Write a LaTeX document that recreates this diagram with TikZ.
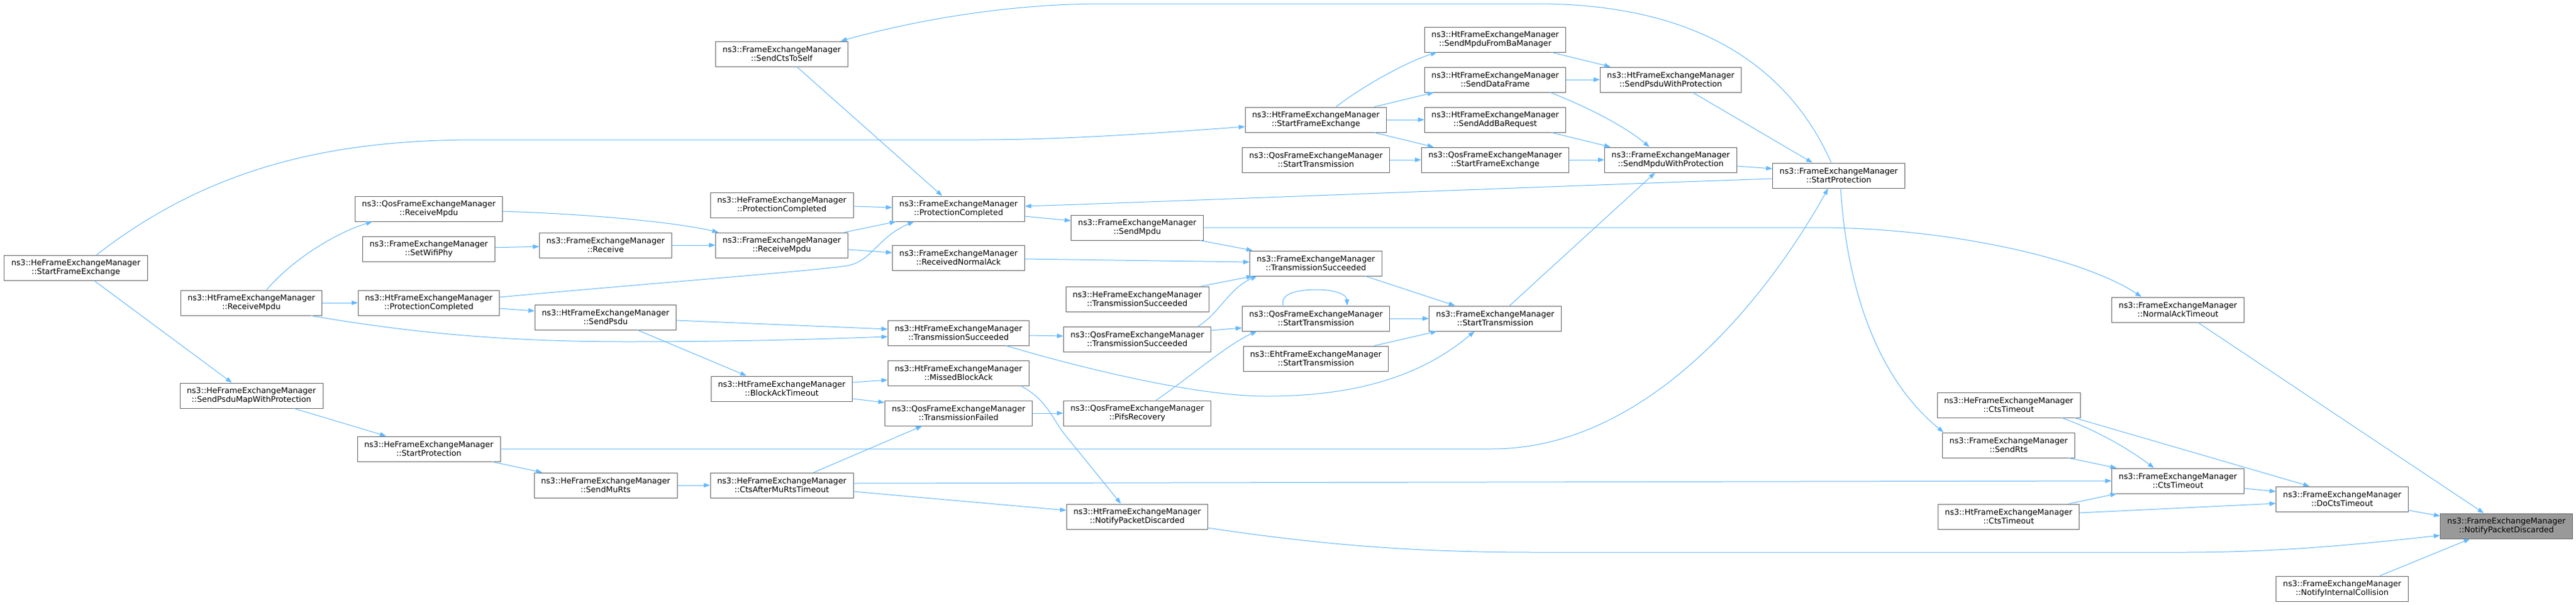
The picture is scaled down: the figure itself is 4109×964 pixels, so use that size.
\documentclass[tikz,border=0pt]{standalone}
\usepackage{fontspec}
\setmainfont{DejaVu Sans}
\usetikzlibrary{calc, arrows.meta}
\definecolor{edgeblue}{HTML}{63B8FF}
\definecolor{boxline}{HTML}{666666}
\definecolor{rootfill}{HTML}{999999}

\begin{document}
\begin{tikzpicture}[x=1bp, y=-1bp,
    every node/.style={font=\fontsize{12.75}{13.8}\selectfont},
    fn/.style={draw=boxline, fill=white, line width=1bp, align=center, inner xsep=11bp, inner ysep=0pt, minimum height=40bp},
    rootfn/.style={fn, fill=rootfill},
    call/.style={draw=edgeblue, line width=1bp, -{Triangle[length=10bp, width=7bp]}}]
  \useasboundingbox[fill=white] (0,0) rectangle (4109,964);
  \node[fn] (HeSFE) at (121,427) {ns3::HeFrameExchangeManager\\::StartFrameExchange};
  \node[fn] (HtRM) at (401,483) {ns3::HtFrameExchangeManager\\::ReceiveMpdu};
  \node[fn] (HeSPMWP) at (401,631) {ns3::HeFrameExchangeManager\\::SendPsduMapWithProtection};
  \node[fn] (QosRM) at (684,333) {ns3::QosFrameExchangeManager\\::ReceiveMpdu};
  \node[fn] (SetPhy) at (684,397) {ns3::FrameExchangeManager\\::SetWifiPhy};
  \node[fn] (HtPC) at (684,483) {ns3::HtFrameExchangeManager\\::ProtectionCompleted};
  \node[fn] (HeSP) at (684,716) {ns3::HeFrameExchangeManager\\::StartProtection};
  \node[fn] (Recv) at (966,391) {ns3::FrameExchangeManager\\::Receive};
  \node[fn] (HtSPsdu) at (966,506) {ns3::HtFrameExchangeManager\\::SendPsdu};
  \node[fn] (HeSMuRts) at (966,774) {ns3::HeFrameExchangeManager\\::SendMuRts};
  \node[fn] (CtsSelf) at (1247,86) {ns3::FrameExchangeManager\\::SendCtsToSelf};
  \node[fn] (HePC) at (1247,327) {ns3::HeFrameExchangeManager\\::ProtectionCompleted};
  \node[fn] (RecvMpdu) at (1247,391) {ns3::FrameExchangeManager\\::ReceiveMpdu};
  \node[fn] (HtBAT) at (1247,620) {ns3::HtFrameExchangeManager\\::BlockAckTimeout};
  \node[fn] (HeCAMRT) at (1247,774) {ns3::HeFrameExchangeManager\\::CtsAfterMuRtsTimeout};
  \node[fn] (ProtDone) at (1529,333) {ns3::FrameExchangeManager\\::ProtectionCompleted};
  \node[fn] (NormAck) at (1529,411) {ns3::FrameExchangeManager\\::ReceivedNormalAck};
  \node[fn] (HtTS) at (1529,531) {ns3::HtFrameExchangeManager\\::TransmissionSucceeded};
  \node[fn] (HtMBA) at (1529,595) {ns3::HtFrameExchangeManager\\::MissedBlockAck};
  \node[fn] (QosTF) at (1529,659) {ns3::QosFrameExchangeManager\\::TransmissionFailed};
  \node[fn] (SendMpdu) at (1814,363) {ns3::FrameExchangeManager\\::SendMpdu};
  \node[fn] (HeTS) at (1814,477) {ns3::HeFrameExchangeManager\\::TransmissionSucceeded};
  \node[fn] (QosTS) at (1814,541) {ns3::QosFrameExchangeManager\\::TransmissionSucceeded};
  \node[fn] (Pifs) at (1814,659) {ns3::QosFrameExchangeManager\\::PifsRecovery};
  \node[fn] (HtNPD) at (1814,824) {ns3::HtFrameExchangeManager\\::NotifyPacketDiscarded};
  \node[fn] (HtSFE) at (2099,191) {ns3::HtFrameExchangeManager\\::StartFrameExchange};
  \node[fn] (QosST) at (2099,255) {ns3::QosFrameExchangeManager\\::StartTransmission};
  \node[fn] (TxOk) at (2099,420) {ns3::FrameExchangeManager\\::TransmissionSucceeded};
  \node[fn] (QosSTb) at (2099,508) {ns3::QosFrameExchangeManager\\::StartTransmission};
  \node[fn] (EhtST) at (2099,572) {ns3::EhtFrameExchangeManager\\::StartTransmission};
  \node[fn] (HtBaMgr) at (2385,63) {ns3::HtFrameExchangeManager\\::SendMpduFromBaManager};
  \node[fn] (HtData) at (2385,127) {ns3::HtFrameExchangeManager\\::SendDataFrame};
  \node[fn] (HtAddBa) at (2385,191) {ns3::HtFrameExchangeManager\\::SendAddBaRequest};
  \node[fn] (QosSFE) at (2385,255) {ns3::QosFrameExchangeManager\\::StartFrameExchange};
  \node[fn] (StartTx) at (2385,508) {ns3::FrameExchangeManager\\::StartTransmission};
  \node[fn] (HtSPWP) at (2665,127) {ns3::HtFrameExchangeManager\\::SendPsduWithProtection};
  \node[fn] (MpduProt) at (2665,255) {ns3::FrameExchangeManager\\::SendMpduWithProtection};
  \node[fn] (StartProt) at (2933,280) {ns3::FrameExchangeManager\\::StartProtection};
  \node[fn] (HeCT) at (3204,646) {ns3::HeFrameExchangeManager\\::CtsTimeout};
  \node[fn] (SendRts) at (3204,710) {ns3::FrameExchangeManager\\::SendRts};
  \node[fn] (HtCT) at (3204,824) {ns3::HtFrameExchangeManager\\::CtsTimeout};
  \node[fn] (AckTO) at (3474,494) {ns3::FrameExchangeManager\\::NormalAckTimeout};
  \node[fn] (CtsTO) at (3474,767) {ns3::FrameExchangeManager\\::CtsTimeout};
  \node[fn] (DoCtsTO) at (3736,796) {ns3::FrameExchangeManager\\::DoCtsTimeout};
  \node[fn] (Collision) at (3736,939) {ns3::FrameExchangeManager\\::NotifyInternalCollision};
  \node[rootfn] (Discard) at (3998,839) {ns3::FrameExchangeManager\\::NotifyPacketDiscarded};

  \draw[call] ($(HeSFE.north)+(33,0)$) .. controls (330,270) and (520,223) .. (760,223) -- (1560,223) .. controls (1700,223) and (1850,212) .. ($(HtSFE.west)+(0,11)$);
  \draw[call] ($(HeSFE.south)+(29,0)$) -- ($(HeSPMWP.north)+(-31,0)$);
  \draw[call] ($(HtRM.north)+(24,0)$) .. controls (470,410) and (540,370) .. ($(QosRM.south)+(-90,0)$);
  \draw[call] (HtRM) -- (HtPC);
  \draw[call] ($(HtRM.south)+(95,0)$) .. controls (650,530) and (800,545) .. (1000,545) .. controls (1200,545) and (1330,540) .. ($(HtTS.west)+(0,6)$);
  \draw[call] ($(HeSPMWP.south)+(68,0)$) -- ($(HeSP.north)+(-68,0)$);
  \draw[call] ($(QosRM.east)+(0,4)$) .. controls (950,342) and (1080,355) .. ($(RecvMpdu.north)+(-101,0)$);
  \draw[call] (SetPhy) -- (Recv);
  \draw[call] (Recv) -- (RecvMpdu);
  \draw[call] ($(CtsSelf.south)+(24,0)$) -- ($(ProtDone.north)+(-26,0)$);
  \draw[call] ($(HePC.east)+(0,2)$) -- ($(ProtDone.west)+(0,-2)$);
  \draw[call] ($(RecvMpdu.north)+(100,0)$) -- ($(ProtDone.south west)+(6,0)$);
  \draw[call] ($(RecvMpdu.east)+(0,7)$) -- ($(NormAck.west)+(0,-8)$);
  \draw[call] ($(HtPC.east)+(0,-9)$) .. controls (1000,455) and (1300,432) .. (1350,424) .. controls (1390,418) and (1400,378) .. ($(ProtDone.south)+(-71,0)$);
  \draw[call] ($(ProtDone.east)+(0,12)$) -- ($(SendMpdu.west)+(0,-11)$);
  \draw[call] ($(StartProt.west)+(0,5)$) .. controls (2400,300) and (1900,320) .. ($(ProtDone.east)+(0,-4)$);
  \draw[call] (SendMpdu.east) -- (2900,363) .. controls (3100,363) and (3320,410) .. ($(AckTO.north)+(-58,0)$);
  \draw[call] ($(SendMpdu.south)+(100,0)$) -- ($(TxOk.north west)+(5,0)$);
  \draw[call] ($(NormAck.east)+(0,2)$) -- ($(TxOk.west)+(0,-2)$);
  \draw[call] ($(HeTS.north)+(102,0)$) -- ($(TxOk.south west)+(5,0)$);
  \draw[call] ($(QosTS.north)+(97,0)$) .. controls (1945,500) and (1960,460) .. ($(TxOk.south west)+(12,0)$);
  \draw[call] ($(HtSPsdu.east)+(0,5)$) -- ($(HtTS.west)+(0,-6)$);
  \draw[call] ($(HtTS.east)+(0,4)$) -- ($(QosTS.west)+(0,-5)$);
  \draw[call] ($(HtTS.south)+(76,0)$) .. controls (1700,580) and (1900,632) .. (2020,632) .. controls (2200,632) and (2290,580) .. ($(StartTx.south)+(-33,0)$);
  \draw[call] ($(HtBAT.east)+(0,-10)$) -- ($(HtMBA.west)+(0,11)$);
  \draw[call] ($(HtBAT.east)+(0,16)$) -- ($(QosTF.west)+(0,-17)$);
  \draw[call] ($(HeCAMRT.north)+(51,0)$) -- ($(QosTF.south)+(-58,0)$);
  \draw[call] (QosTF) -- (Pifs);
  \draw[call] ($(HtMBA.south)+(99,0)$) .. controls (1672,638) and (1680,672) .. (1700,695) -- ($(HtNPD.north)+(-26,0)$);
  \draw[call] ($(Pifs.north)+(30,0)$) .. controls (1900,600) and (1960,548) .. ($(QosSTb.south)+(-94,0)$);
  \draw[call] ($(QosTS.east)+(0,-14)$) -- ($(QosSTb.west)+(0,15)$);
  \draw[call] ($(QosSTb.north)+(-52,0)$) .. controls (2040,465) and (2080,462) .. (2100,462) .. controls (2130,462) and (2148,470) .. ($(QosSTb.north)+(50,0)$);
  \draw[call] (HeSP.east) -- (2380,716) .. controls (2620,716) and (2810,490) .. ($(StartProt.south)+(-17,0)$);
  \draw[call] ($(HeSP.south)+(101,0)$) -- ($(HeSMuRts.north)+(-101,0)$);
  \draw[call] (HeSMuRts) -- (HeCAMRT);
  \draw[call] ($(HtPC.east)+(0,9)$) -- ($(HtSPsdu.west)+(0,-10)$);
  \draw[call] ($(HtSPsdu.south)+(51,0)$) -- ($(HtBAT.north)+(-56,0)$);
  \draw[call] ($(HeCAMRT.east)+(0,-3)$) -- (CtsTO.west);
  \draw[call] ($(HeCAMRT.east)+(0,10)$) -- ($(HtNPD.west)+(0,-10)$);
  \draw[call] ($(HtNPD.east)+(0,18)$) .. controls (2100,868) and (2250,881) .. (2450,881) -- (3480,881) .. controls (3650,881) and (3780,866) .. ($(Discard.west)+(0,15)$);
  \draw[call] ($(HtSFE.north)+(32,0)$) .. controls (2170,140) and (2240,100) .. ($(HtBaMgr.south)+(-93,0)$);
  \draw[call] ($(HtSFE.north)+(93,0)$) -- ($(HtData.south)+(-98,0)$);
  \draw[call] (HtSFE) -- (HtAddBa);
  \draw[call] ($(HtSFE.south)+(93,0)$) -- ($(QosSFE.north)+(-98,0)$);
  \draw[call] (QosST) -- (QosSFE);
  \draw[call] ($(HtBaMgr.south)+(90,0)$) -- ($(HtSPWP.north)+(-96,0)$);
  \draw[call] (HtData) -- (HtSPWP);
  \draw[call] ($(HtData.south)+(88,0)$) .. controls (2530,170) and (2590,200) .. ($(MpduProt.north)+(-34,0)$);
  \draw[call] ($(HtAddBa.south)+(90,0)$) -- ($(MpduProt.north)+(-96,0)$);
  \draw[call] (QosSFE) -- (MpduProt);
  \draw[call] ($(HtSPWP.south)+(35,0)$) -- ($(StartProt.north)+(-42,0)$);
  \draw[call] ($(MpduProt.east)+(0,10)$) -- ($(StartProt.west)+(0,-11)$);
  \draw[call] ($(StartProt.north)+(-12,0)$) .. controls (2850,100) and (2700,6) .. (2450,6) -- (1760,6) .. controls (1600,6) and (1450,35) .. ($(CtsSelf.north east)+(-12,0)$);
  \draw[call] ($(StartProt.south)+(3,0)$) .. controls (2945,450) and (2990,600) .. ($(SendRts.north west)+(2,0)$);
  \draw[call] ($(TxOk.south)+(79,0)$) -- ($(StartTx.north)+(-64,0)$);
  \draw[call] ($(StartTx.north)+(23,0)$) -- ($(MpduProt.south)+(-25,0)$);
  \draw[call] (QosSTb) -- (StartTx);
  \draw[call] ($(EhtST.north)+(93,0)$) -- ($(StartTx.south)+(-93,0)$);
  \draw[call] ($(HeCT.south)+(85,0)$) .. controls (3340,685) and (3390,712) .. ($(CtsTO.north)+(-38,0)$);
  \draw[call] ($(HeCT.south)+(105,0)$) -- ($(DoCtsTO.north)+(-52,0)$);
  \draw[call] ($(SendRts.south)+(96,0)$) -- ($(CtsTO.north west)+(8,0)$);
  \draw[call] ($(HtCT.north)+(96,0)$) -- ($(CtsTO.south west)+(8,0)$);
  \draw[call] ($(HtCT.east)+(0,-6)$) -- ($(DoCtsTO.west)+(0,7)$);
  \draw[call] ($(AckTO.south)+(32,0)$) -- ($(Discard.north)+(-36,0)$);
  \draw[call] ($(CtsTO.east)+(0,12)$) -- ($(DoCtsTO.west)+(0,-12)$);
  \draw[call] ($(DoCtsTO.east)+(0,18)$) -- ($(Discard.west)+(0,-16)$);
  \draw[call] ($(Collision.north)+(60,0)$) -- ($(Discard.south)+(-58,0)$);
\end{tikzpicture}
\end{document}
